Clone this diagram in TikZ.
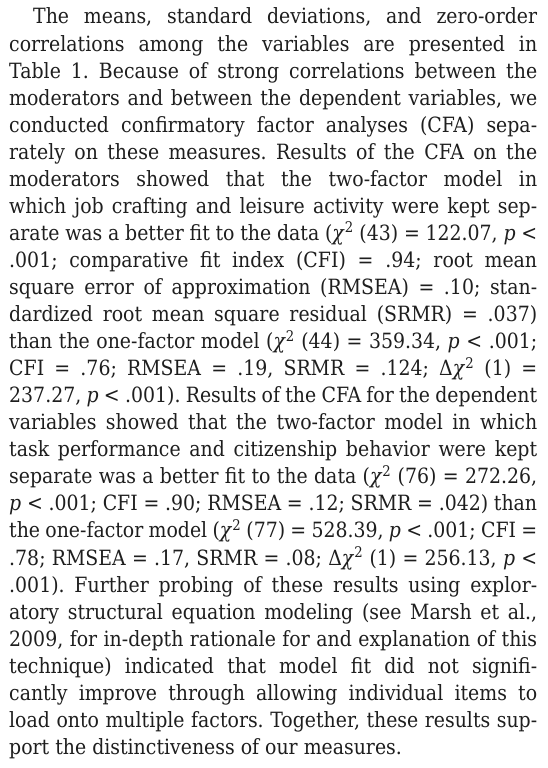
\documentclass[tikz,border=0pt]{standalone}
\usepackage{amsmath}
\usepackage{fontspec}
\setmainfont{DejaVu Serif}[FakeStretch=0.9]
\usepackage{xcolor}
\usepackage{tikz}
\usetikzlibrary{backgrounds}

\definecolor{inkgray}{HTML}{1E1E1E}
\newcommand{\fullline}[2][528pt]{\makebox[#1][s]{#2}}
\newcommand{\chisq}{\textit{χ}\textsuperscript{2}}
\newcommand{\pv}{\textit{p}}
\frenchspacing

\begin{document}
\begin{tikzpicture}
            [x=1pt,y=-1pt,text line/.style={anchor=base west,inner sep=0pt,text=inkgray,font=\fontsize{21}{27}\selectfont}, background rectangle/.style={fill=white}, show background rectangle]
            \useasboundingbox (0,0) rectangle (548,768);
            \node[text line] (l1) at (33,24) {\fullline[504pt]{The means, standard deviations, and zero-order}};
            \node[text line] (l2) at (9,51.05) {\fullline{correlations among the variables are presented in}};
            \node[text line] (l3) at (9,78.1) {\fullline{Table 1. Because of strong correlations between the}};
            \node[text line] (l4) at (9,105.15) {\fullline{moderators and between the dependent variables, we}};
            \node[text line] (l5) at (9,132.2) {\fullline{conducted confirmatory factor analyses (CFA) sepa-}};
            \node[text line] (l6) at (9,159.25) {\fullline{rately on these measures. Results of the CFA on the}};
            \node[text line] (l7) at (9,186.3) {\fullline{moderators showed that the two-factor model in}};
            \node[text line] (l8) at (9,213.35) {\fullline{which job crafting and leisure activity were kept sep-}};
            \node[text line] (l9) at (9,240.4) {\fullline{arate was a better fit to the data (\chisq{} (43) = 122.07, \pv{} <}};
            \node[text line] (l10) at (9,267.45) {\fullline{.001; comparative fit index (CFI) = .94; root mean}};
            \node[text line] (l11) at (9,294.5) {\fullline{square error of approximation (RMSEA) = .10; stan-}};
            \node[text line] (l12) at (9,321.55) {\fullline{dardized root mean square residual (SRMR) = .037)}};
            \node[text line] (l13) at (9,348.6) {\fullline{than the one-factor model (\chisq{} (44) = 359.34, \pv{} < .001;}};
            \node[text line] (l14) at (9,375.65) {\fullline{CFI = .76; RMSEA = .19, SRMR = .124; Δ\chisq{} (1) =}};
            \node[text line] (l15) at (9,402.7) {\fullline{237.27, \pv{} < .001). Results of the CFA for the dependent}};
            \node[text line] (l16) at (9,429.75) {\fullline{variables showed that the two-factor model in which}};
            \node[text line] (l17) at (9,456.8) {\fullline{task performance and citizenship behavior were kept}};
            \node[text line] (l18) at (9,483.85) {\fullline{separate was a better fit to the data (\chisq{} (76) = 272.26,}};
            \node[text line] (l19) at (9,510.9) {\fullline{\pv{} < .001; CFI = .90; RMSEA = .12; SRMR = .042) than}};
            \node[text line] (l20) at (9,537.95) {\fullline{the one-factor model (\chisq{} (77) = 528.39, \pv{} < .001; CFI =}};
            \node[text line] (l21) at (9,565) {\fullline{.78; RMSEA = .17, SRMR = .08; Δ\chisq{} (1) = 256.13, \pv{} <}};
            \node[text line] (l22) at (9,592.05) {\fullline{.001). Further probing of these results using explor-}};
            \node[text line] (l23) at (9,619.1) {\fullline{atory structural equation modeling (see Marsh et al.,}};
            \node[text line] (l24) at (9,646.15) {\fullline{2009, for in-depth rationale for and explanation of this}};
            \node[text line] (l25) at (9,673.2) {\fullline{technique) indicated that model fit did not signifi-}};
            \node[text line] (l26) at (9,700.25) {\fullline{cantly improve through allowing individual items to}};
            \node[text line] (l27) at (9,727.3) {\fullline{load onto multiple factors. Together, these results sup-}};
            \node[text line] (l28) at (9,754.35) {port the distinctiveness of our measures.};
            \end{tikzpicture}
\end{document}
